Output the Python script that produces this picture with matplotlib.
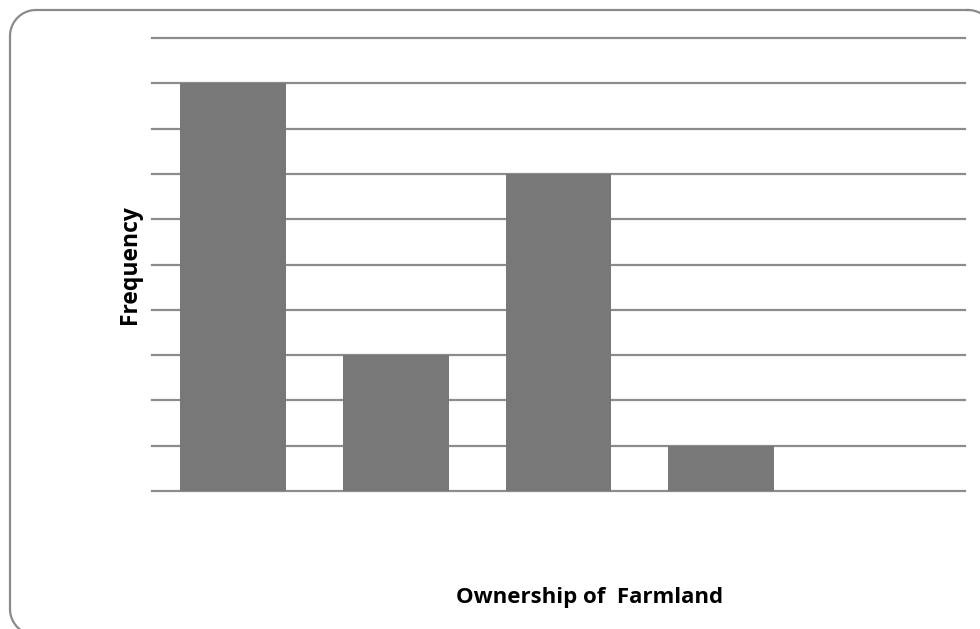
import numpy as np
import matplotlib
matplotlib.use("Agg")
import matplotlib.pyplot as plt

# ---------- data ---------- #
slots = [1, 2, 3, 4, 5]          # category slots (no names printed)
freq = [9, 3, 7, 1, 0]
yticks = list(range(0, 11))

W, H = 980, 629
plt.rcParams["font.family"] = ["Open Sans", "DejaVu Sans"]
fig = plt.figure(figsize=(W / 100, H / 100), dpi=100)


def rounded_rect(x0, y0, x1, y1, r, n=20):
    """Outline of a rounded rectangle in pixel coords (y down)."""
    xs, ys = [], []
    corners = [(x1 - r, y0 + r, -90, 0), (x1 - r, y1 - r, 0, 90),
               (x0 + r, y1 - r, 90, 180), (x0 + r, y0 + r, 180, 270)]
    for cx, cy, a0, a1 in corners:
        t = np.radians(np.linspace(a0, a1, n))
        xs.extend(cx + r * np.cos(t))
        ys.extend(cy + r * np.sin(t))
    return xs + xs[:1], ys + ys[:1]


# full-figure overlay in pixel units for the frame
bg = fig.add_axes([0, 0, 1, 1])
bg.set_xlim(0, W)
bg.set_ylim(H, 0)
bg.axis("off")
fx, fy = rounded_rect(10, 10, 994, 635, 26)
bg.plot(fx, fy, color="#8a8a8a", lw=1.6, clip_on=False)

ax = fig.add_axes([152 / W, 1 - 491 / H, (965 - 152) / W, (491 - 38) / H])
ax.bar(slots, freq, width=0.65, color="#787878", zorder=3)
ax.set_xlim(0.5, 5.5)
ax.set_ylim(0, 10)
ax.set_yticks(yticks)
ax.yaxis.grid(True, color="#8c8c8c", linewidth=1.6)
for gl in ax.get_ygridlines():
    gl.set_clip_on(False)
ax.set_axisbelow(True)
ax.set_yticklabels([])
ax.set_xticks([])
ax.tick_params(axis="y", length=0)
for s in ax.spines.values():
    s.set_visible(False)

fig.text(130 / W, 1 - 265 / H, "Frequency", rotation=90, ha="center",
         va="center", fontsize=16.5, fontweight="bold")
fig.text(590 / W, 1 - 597 / H, "Ownership of  Farmland", ha="center",
         va="center", fontsize=16, fontweight="bold")

fig.savefig("out.png", dpi=100)
